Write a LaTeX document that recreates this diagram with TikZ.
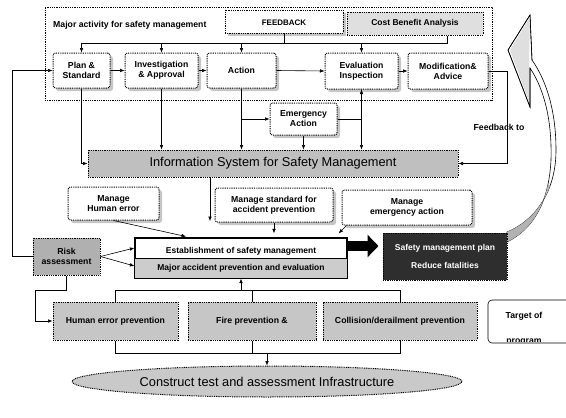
\documentclass[tikz,border=0pt]{standalone}
\usepackage{fontspec}
\setmainfont{Liberation Sans}
\usetikzlibrary{arrows.meta,shadows,shapes.geometric,calc}

\tikzset{
  conn/.style={line width=0.6pt},
  arr/.style={conn,-{Latex[length=4.5pt,width=3.6pt]}},
  txt/.style={font=\bfseries\fontsize{8.7}{10}\selectfont, align=center, inner sep=0pt},
  dotline/.style={dash pattern=on 0.9pt off 0.9pt, line width=1pt},
  sbox/.style={draw, dotline, rounded corners=2.5pt, fill=white, txt,
    general shadow={fill=gray!45, shadow xshift=3pt, shadow yshift=-3pt}},
  gbox/.style={draw, dotline, fill=gray!45, txt},
  bigtxt/.style={font=\fontsize{12.8}{14}\selectfont},
}

\begin{document}
\begin{tikzpicture}[x=1pt,y=-1pt]
\useasboundingbox (0,0) rectangle (566,418);

% ---------------- major activity frame ----------------
\node[draw, dotline, minimum width=447pt, minimum height=93pt, inner sep=0pt] (major) at (268.5,53.5) {};
\node[txt, anchor=west] (majlbl) at (53,25) {Major activity for safety management};

\node[sbox, minimum width=118pt, minimum height=23pt, rounded corners=0pt] (fb) at (284,21.5) {};
\node[txt, font=\bfseries\fontsize{8}{9}\selectfont] (fbtxt) at (284,23) {FEEDBACK};
\node[gbox, fill=gray!25, minimum width=136pt, minimum height=23pt, font=\bfseries\fontsize{8.5}{10}\selectfont] (cba) at (415,23.5) {Cost Benefit Analysis};

\node[sbox, minimum width=57pt, minimum height=35pt] (plan) at (81.5,70.5) {Plan \&\\Standard};
\node[sbox, minimum width=73pt, minimum height=35pt] (inv) at (161.5,70.5) {Investigation\\\& Approval};
\node[sbox, minimum width=69pt, minimum height=35pt] (act) at (241.5,70.5) {Action};
\node[sbox, minimum width=73pt, minimum height=36pt] (eval) at (361.5,71) {Evaluation\\Inspection};
\node[sbox, minimum width=80pt, minimum height=36pt] (mod) at (448,71) {Modification\&\\Advice};

\node[sbox, minimum width=67pt, minimum height=32pt] (emg) at (303.5,119) {Emergency\\Action};

% feedback bus above the activity row
\coordinate (busL) at (81.5,43);
\draw[conn] (cba.south -| 447,0) |- (busL);
\draw[conn] (fb.south) -- (fb.south |- busL);
\foreach \b in {plan,inv,act,eval}
  \draw[arr] (\b.north |- busL) -- (\b.north);

\draw[arr] (plan.east) -- (inv.west);
\draw[arr] (inv.east) -- (act.west);
\draw[arr] (act.east) -- (eval.west);
\draw[arr] (eval.east) -- (mod.west);

% ---------------- information system ----------------
\node[gbox, bigtxt, fill=gray!50, minimum width=370pt, minimum height=27pt] (info) at (273,163.5) {Information System for Safety Management};

\draw[arr] (plan.south) |- (info.west);
\draw[arr] (inv.south) -- (inv.south |- info.north);
\draw[arr] (act.south) -- (act.south |- info.north);
\draw[arr] (act.south |- emg.west) -- (emg.west);
\draw[arr] (emg.south) -- (emg.south |- info.north);
\draw[arr] (emg.east) -| (eval.south);
\draw[arr] (eval.south) -- (eval.south |- info.north);

\coordinate (fbk) at (507,0);
\draw[arr] (mod.east) -| (fbk |- info.east) -- (info.east);
\node[txt] (fbtext) at (499,127) {Feedback to};

% ---------------- big return arrow ----------------
\path[draw=black, line width=0.6pt, fill=white]
  (530,15) -- (508,50) -- (530,107) -- (530,68)
  .. controls (546,92) and (552,125) .. (551,160)
  .. controls (549,200) and (535,228) .. (507,242)
  -- (507,232)
  .. controls (532,222) and (556,195) .. (556,150)
  .. controls (556,110) and (546,80) .. (532,60) -- cycle;
\begin{scope}
  \clip (530,68)
  .. controls (546,92) and (552,125) .. (551,160)
  .. controls (549,200) and (535,228) .. (507,242)
  -- (507,232)
  .. controls (532,222) and (556,195) .. (556,150)
  .. controls (556,110) and (546,80) .. (532,60) -- cycle;
  \fill[gray!60] (500,185) rectangle (560,245);
\end{scope}
\fill[gray!25] (530,17) -- (510,50) -- (529,102) -- (529,62) -- cycle;
\draw[line width=0.6pt] (530,15) -- (508,50) -- (530,107) -- (530,68);
\draw[line width=0.6pt] (530,15) -- (532,60);

% ---------------- manage boxes ----------------
\node[sbox, minimum width=91pt, minimum height=33pt] (mhe) at (113.5,203.5) {Manage\\Human error};
\node[sbox, minimum width=118pt, minimum height=34pt] (mstd) at (274,205) {Manage standard for\\accident prevention};
\node[sbox, minimum width=130pt, minimum height=35pt] (memg) at (407,207.5) {Manage\\emergency action};

% ---------------- establishment block ----------------
\node[draw, line width=1.2pt, fill=white, minimum width=212pt, minimum height=40pt, inner sep=0pt] (est) at (241,258) {};
\node[txt, font=\bfseries\fontsize{8.5}{10}\selectfont] (esttop) at (241,251.5) {Establishment of safety management};
\fill[gray!40] (est.west) rectangle (est.south east);
\draw[line width=1.2pt] (est.north west) rectangle (est.south east);
\draw[line width=0.8pt] (est.west) -- (est.east);
\node[txt, font=\bfseries\fontsize{8.5}{10}\selectfont] (estbot) at (241,268) {Major accident prevention and evaluation};

\coordinate (infoend) at (210,221);
\draw[arr] (info.south -| infoend) -- (infoend);
\draw[arr, shorten >=4pt] (mhe.south) -- (est.north -| 190,0);
\draw[arr, shorten >=4pt] (mstd.south) -- (est.north -| mstd.south);
\draw[arr] ([xshift=5pt]memg.south west) -- ([xshift=-9pt,yshift=4pt]est.north east);

% ---------------- safety management plan ----------------
\node[draw=black, dotline, fill=black!82, text=white, txt, font=\bfseries\fontsize{8.5}{10}\selectfont,
      minimum width=124pt, minimum height=47pt] (smp) at (445,256.5) {Safety management plan\\[8pt]Reduce fatalities};
\draw[line width=10pt, -{Triangle[length=11pt,width=22pt]}, shorten >=4pt]
  ([yshift=12pt]est.east) -- ([yshift=12pt]est.east -| smp.west);

% ---------------- risk assessment ----------------
\node[gbox, fill=gray!62, minimum width=67pt, minimum height=37pt] (risk) at (66.5,256.5) {Risk\\assessment};
\draw[arr] (risk.east) -- ([yshift=10pt]est.west);
\draw[arr] (risk.east) -- ([yshift=-8pt]est.west);
\coordinate (lft) at (12,0);
\draw[arr] (risk.west) -| (lft |- plan.west) -- (plan.west);

% ---------------- prevention row ----------------
\node[gbox, minimum width=125pt, minimum height=38pt] (hep) at (115.5,321) {Human error prevention};
\node[gbox, minimum width=128pt, minimum height=38pt] (fire) at (252,321) {Fire prevention \&};
\node[gbox, minimum width=154pt, minimum height=38pt] (col) at (400,321) {Collision/derailment prevention};

\coordinate (rk1) at (35,290);
\draw[arr] (risk.south) |- (rk1) |- (hep.west);

\coordinate (busT) at (0,290);
\coordinate (busB) at (0,353);
\draw[conn] (hep.north) |- (col.north |- busT) -- (col.north);
\draw[conn] (fire.north) -- (fire.north |- busT);
\draw[arr] (est.south |- busT) -- (est.south);
\draw[conn] (hep.south) |- (col.south |- busB) -- (col.south);
\draw[conn] (fire.south) -- (fire.south |- busB);

% ---------------- target box ----------------
\node[draw, line width=0.6pt, rounded corners=4pt, fill=white, minimum width=84pt, minimum height=43pt] (tgt) at (530,321.5) {};
\node[txt] (tgt1) at (524,316) {Target of};
\begin{scope}
  \clip ([yshift=-1pt]tgt.north west) rectangle ([yshift=2pt]tgt.south east);
  \node[txt, anchor=base] (tgt2) at (524,343) {program};
\end{scope}

% ---------------- infrastructure ellipse ----------------
\node[ellipse, draw, dotline, fill=gray!42, bigtxt, inner sep=0pt, minimum width=390pt, minimum height=31pt] (cons) at (267,381.5) {Construct test and assessment Infrastructure};
\draw[arr] (cons.north |- busB) -- (cons.north);

\end{tikzpicture}
\end{document}
